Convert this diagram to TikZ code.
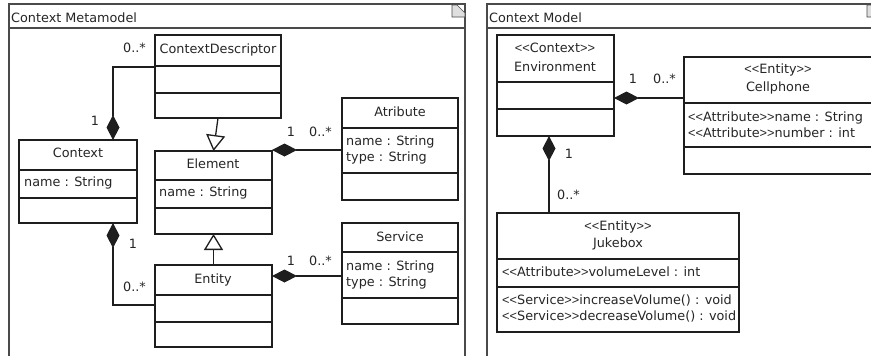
\documentclass[tikz,border=0pt]{standalone}
\usepackage{fontspec}
\setmainfont{DejaVu Sans}
\newfontfamily\symfont{Liberation Sans}
\usetikzlibrary{arrows.meta}
\definecolor{ink}{HTML}{1E1E1E}
\definecolor{txt}{HTML}{262626}
\definecolor{framec}{HTML}{4A4A4A}
\newcommand\sopen{{\symfont<\kern0pt<}}
\newcommand\sclose{{\symfont>\kern0pt>}}
\tikzset{
 umlbox/.style={draw=ink, line width=1.5pt, inner sep=0pt, outer sep=0pt, fill=white, anchor=north west},
 divider/.style={draw=ink, line width=1.4pt},
 lbl/.style={inner sep=0pt, text=txt, font=\fontsize{12.8}{16}\selectfont},
 comp/.style={draw=ink, line width=1.3pt, -{Diamond[length=25pt,width=13pt,fill=ink]}},
 gen/.style={draw=ink, line width=1.3pt, -{Triangle[open,length=16pt,width=19pt,fill=white]}},
 frameline/.style={draw=framec, line width=1.2pt},
 fold/.style={fill=gray!25, draw=framec, line width=0.7pt},
}
% name, x1, y1, x2, y2, divider1, divider2
\newcommand\classbox[7]{%
 \node[umlbox, minimum width={(#4)-(#2)}, minimum height={(#5)-(#3)}] (#1) at (#2,#3) {};
 \draw[divider] (#1.west |- 0,#6) -- (#1.east |- 0,#6);
 \draw[divider] (#1.west |- 0,#7) -- (#1.east |- 0,#7);
}
\begin{document}
\begin{tikzpicture}[x=1pt,y=-1pt]
\useasboundingbox (0,0) rectangle (871,356);
\fill[white] (0,0) rectangle (871,356);
\begin{scope}
\clip (0,0) rectangle (871,356);
% frames
\draw[frameline] (9,362) -- (9,4) -- (465,4) -- (465,362);
\draw[frameline] (9,28) -- (465,28);
\draw[fold] (452,5) -- (457,5) -- (465,13) -- (465,17) -- (452,17) -- cycle;
\node[lbl, anchor=mid west] (t1) at (11,20) {Context Metamodel};
\draw[frameline] (487,362) -- (487,4) -- (885,4);
\draw[frameline] (487,28) -- (885,28);
\draw[fold] (867,5) -- (872,5) -- (880,13) -- (880,17) -- (867,17) -- cycle;
\node[lbl, anchor=mid west] (t2) at (489,20) {Context Model};

% ---------- metamodel ----------
\classbox{cd}{155}{35}{281}{118}{66}{93}
\node[lbl, anchor=mid] (cdt) at (218,51) {ContextDescriptor};
\classbox{ctx}{19}{140}{137}{223}{170}{198}
\node[lbl, anchor=mid] (ctxt) at (78,155) {Context};
\node[lbl, anchor=mid west] (ctxa) at (24,184) {name : String};
\classbox{elem}{155}{151}{272}{234}{180}{208}
\node[lbl, anchor=mid] (elemt) at (213,166) {Element};
\node[lbl, anchor=mid west] (elema) at (159,194) {name : String};
\classbox{ent}{155}{265}{272}{347}{295}{322}
\node[lbl, anchor=mid] (entt) at (213,281) {Entity};
\classbox{att}{342}{98}{458}{200}{128}{173}
\node[lbl, anchor=mid] (attt) at (400,114) {Atribute};
\node[lbl, anchor=north west, align=left] (atta) at (346,136) {name : String\\type : String};
\classbox{svc}{342}{223}{458}{324}{252}{298}
\node[lbl, anchor=mid] (svct) at (400,239) {Service};
\node[lbl, anchor=north west, align=left] (svca) at (346,261) {name : String\\type : String};

\draw[gen] (cd.south) -- (elem.north);
\draw[gen] (ent.north) -- (elem.south);
\draw[comp] (cd.west |- 0,67) -| (ctx.north -| 113,0);
\draw[comp] (ent.west |- 0,305) -| (ctx.south -| 113,0);
\draw[comp] (att.west |- 0,150) -- (elem.east |- 0,150);
\draw[comp] (svc.west |- 0,276) -- (ent.east |- 0,276);

\node[lbl, anchor=mid east] (m1) at (146,50) {0..*};
\node[lbl, anchor=mid] (m2) at (95,123) {1};
\node[lbl, anchor=mid] (m3) at (133,246) {1};
\node[lbl, anchor=mid east] (m4) at (146,289) {0..*};
\node[lbl, anchor=mid] (m5) at (291,134) {1};
\node[lbl, anchor=mid west] (m6) at (309,134) {0..*};
\node[lbl, anchor=mid] (m7) at (291,263) {1};
\node[lbl, anchor=mid west] (m8) at (309,263) {0..*};

% ---------- model ----------
\classbox{env}{497}{35}{614}{136}{82}{109}
\node[lbl, anchor=mid] (envs) at (555,50) {\sopen Context\sclose};
\node[lbl, anchor=mid] (envt) at (555,69) {Environment};
\classbox{cell}{684}{57}{876}{174}{103}{147}
\node[lbl, anchor=mid] (cells) at (778,71) {\sopen Entity\sclose};
\node[lbl, anchor=mid] (cellt) at (778,89) {Cellphone};
\node[lbl, anchor=north west, align=left] (cella) at (688,112) {\sopen Attribute\sclose name : String\\\sopen Attribute\sclose number : int};
\classbox{juke}{497}{213}{739}{332}{259}{287}
\node[lbl, anchor=mid] (jukes) at (618,228) {\sopen Entity\sclose};
\node[lbl, anchor=mid] (juket) at (618,245) {Jukebox};
\node[lbl, anchor=mid west] (jukea) at (502,274) {\sopen Attribute\sclose volumeLevel : int};
\node[lbl, anchor=north west, align=left] (jukeo) at (502,295) {\sopen Service\sclose increaseVolume() : void\\\sopen Service\sclose decreaseVolume() : void};

\draw[comp] (cell.west |- 0,98) -- (env.east |- 0,98);
\draw[comp] (juke.north -| 549,0) -- (env.south -| 549,0);

\node[lbl, anchor=mid] (n1) at (633,81) {1};
\node[lbl, anchor=mid west] (n2) at (653,81) {0..*};
\node[lbl, anchor=mid] (n3) at (569,156) {1};
\node[lbl, anchor=mid west] (n4) at (557,197) {0..*};
\end{scope}
\end{tikzpicture}
\end{document}
